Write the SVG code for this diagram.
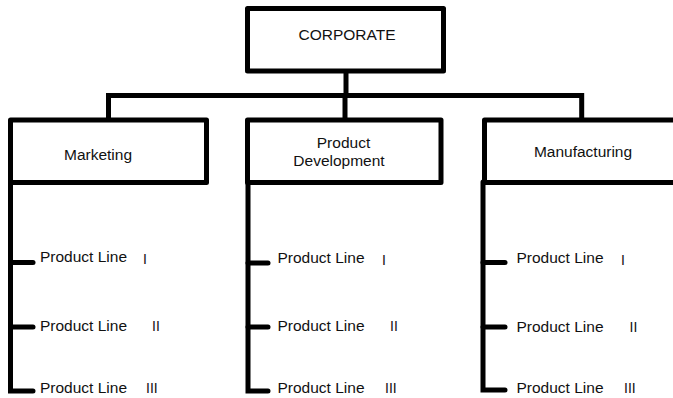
<svg xmlns="http://www.w3.org/2000/svg" width="673" height="398" viewBox="0 0 673 398">
  <style>
    .box { fill: #ffffff; stroke: #000000; stroke-width: 5; stroke-linejoin: round; }
    .link { fill: none; stroke: #000000; stroke-width: 5; stroke-linejoin: miter; stroke-linecap: butt; }
    .tick { fill: none; stroke: #000000; stroke-width: 5; stroke-linejoin: miter; stroke-linecap: round; }
    text { font-family: "Liberation Sans", Arial, sans-serif; font-size: 15.5px; fill: #111111; }
    .mid { text-anchor: middle; }
    .num { font-size: 14px; }
  </style>
  <rect width="673" height="398" fill="#ffffff"/>

  <!-- connectors -->
  <g id="connectors">
    <path class="link" d="M346 71 V95.5"/>
    <path class="link" d="M108.5 120 V95.5 H581.7 V120"/>
    <path class="link" d="M345 95.5 V120"/>
    <!-- Marketing product lines -->
    <path class="tick" d="M10.5 182 V391 H33"/>
    <path class="tick" d="M10.5 262.5 H33"/>
    <path class="tick" d="M10.5 327 H33"/>
    <!-- Product Development product lines -->
    <path class="tick" d="M248 182 V391 H268"/>
    <path class="tick" d="M248 263 H268"/>
    <path class="tick" d="M248 327 H268"/>
    <!-- Manufacturing product lines -->
    <path class="tick" d="M483 182 V390 H505"/>
    <path class="tick" d="M483 262.5 H505"/>
    <path class="tick" d="M483 327 H505"/>
  </g>

  <g id="corporate">
    <rect class="box" x="247.5" y="8.5" width="196" height="62.5"/>
    <text class="mid" x="347" y="40">CORPORATE</text>
  </g>

  <g id="marketing">
    <rect class="box" x="10.5" y="120" width="196" height="62.5"/>
    <text class="mid" x="98" y="159.5">Marketing</text>
  </g>

  <g id="product-development">
    <rect class="box" x="247.5" y="120" width="193.5" height="62.5"/>
    <text class="mid" x="343.5" y="147.5">Product</text>
    <text class="mid" x="339" y="166">Development</text>
  </g>

  <g id="manufacturing">
    <rect class="box" x="484.5" y="120" width="200" height="62.5"/>
    <text class="mid" x="583" y="157">Manufacturing</text>
  </g>

  <g id="marketing-lines">
    <text x="40" y="262">Product Line</text>
    <text class="num" x="143" y="264">I</text>
    <text x="40" y="331">Product Line</text>
    <text class="num" x="152" y="331">II</text>
    <text x="40" y="392.5">Product Line</text>
    <text class="num" x="146" y="392.5">III</text>
  </g>

  <g id="development-lines">
    <text x="277.5" y="263">Product Line</text>
    <text class="num" x="382" y="265">I</text>
    <text x="277.5" y="331">Product Line</text>
    <text class="num" x="390" y="331">II</text>
    <text x="277.5" y="392.5">Product Line</text>
    <text class="num" x="385" y="392.5">III</text>
  </g>

  <g id="manufacturing-lines">
    <text x="516.5" y="262.5">Product Line</text>
    <text class="num" x="621" y="265">I</text>
    <text x="516.5" y="331.5">Product Line</text>
    <text class="num" x="629.5" y="332">II</text>
    <text x="516.5" y="392.5">Product Line</text>
    <text class="num" x="624" y="393">III</text>
  </g>
</svg>
